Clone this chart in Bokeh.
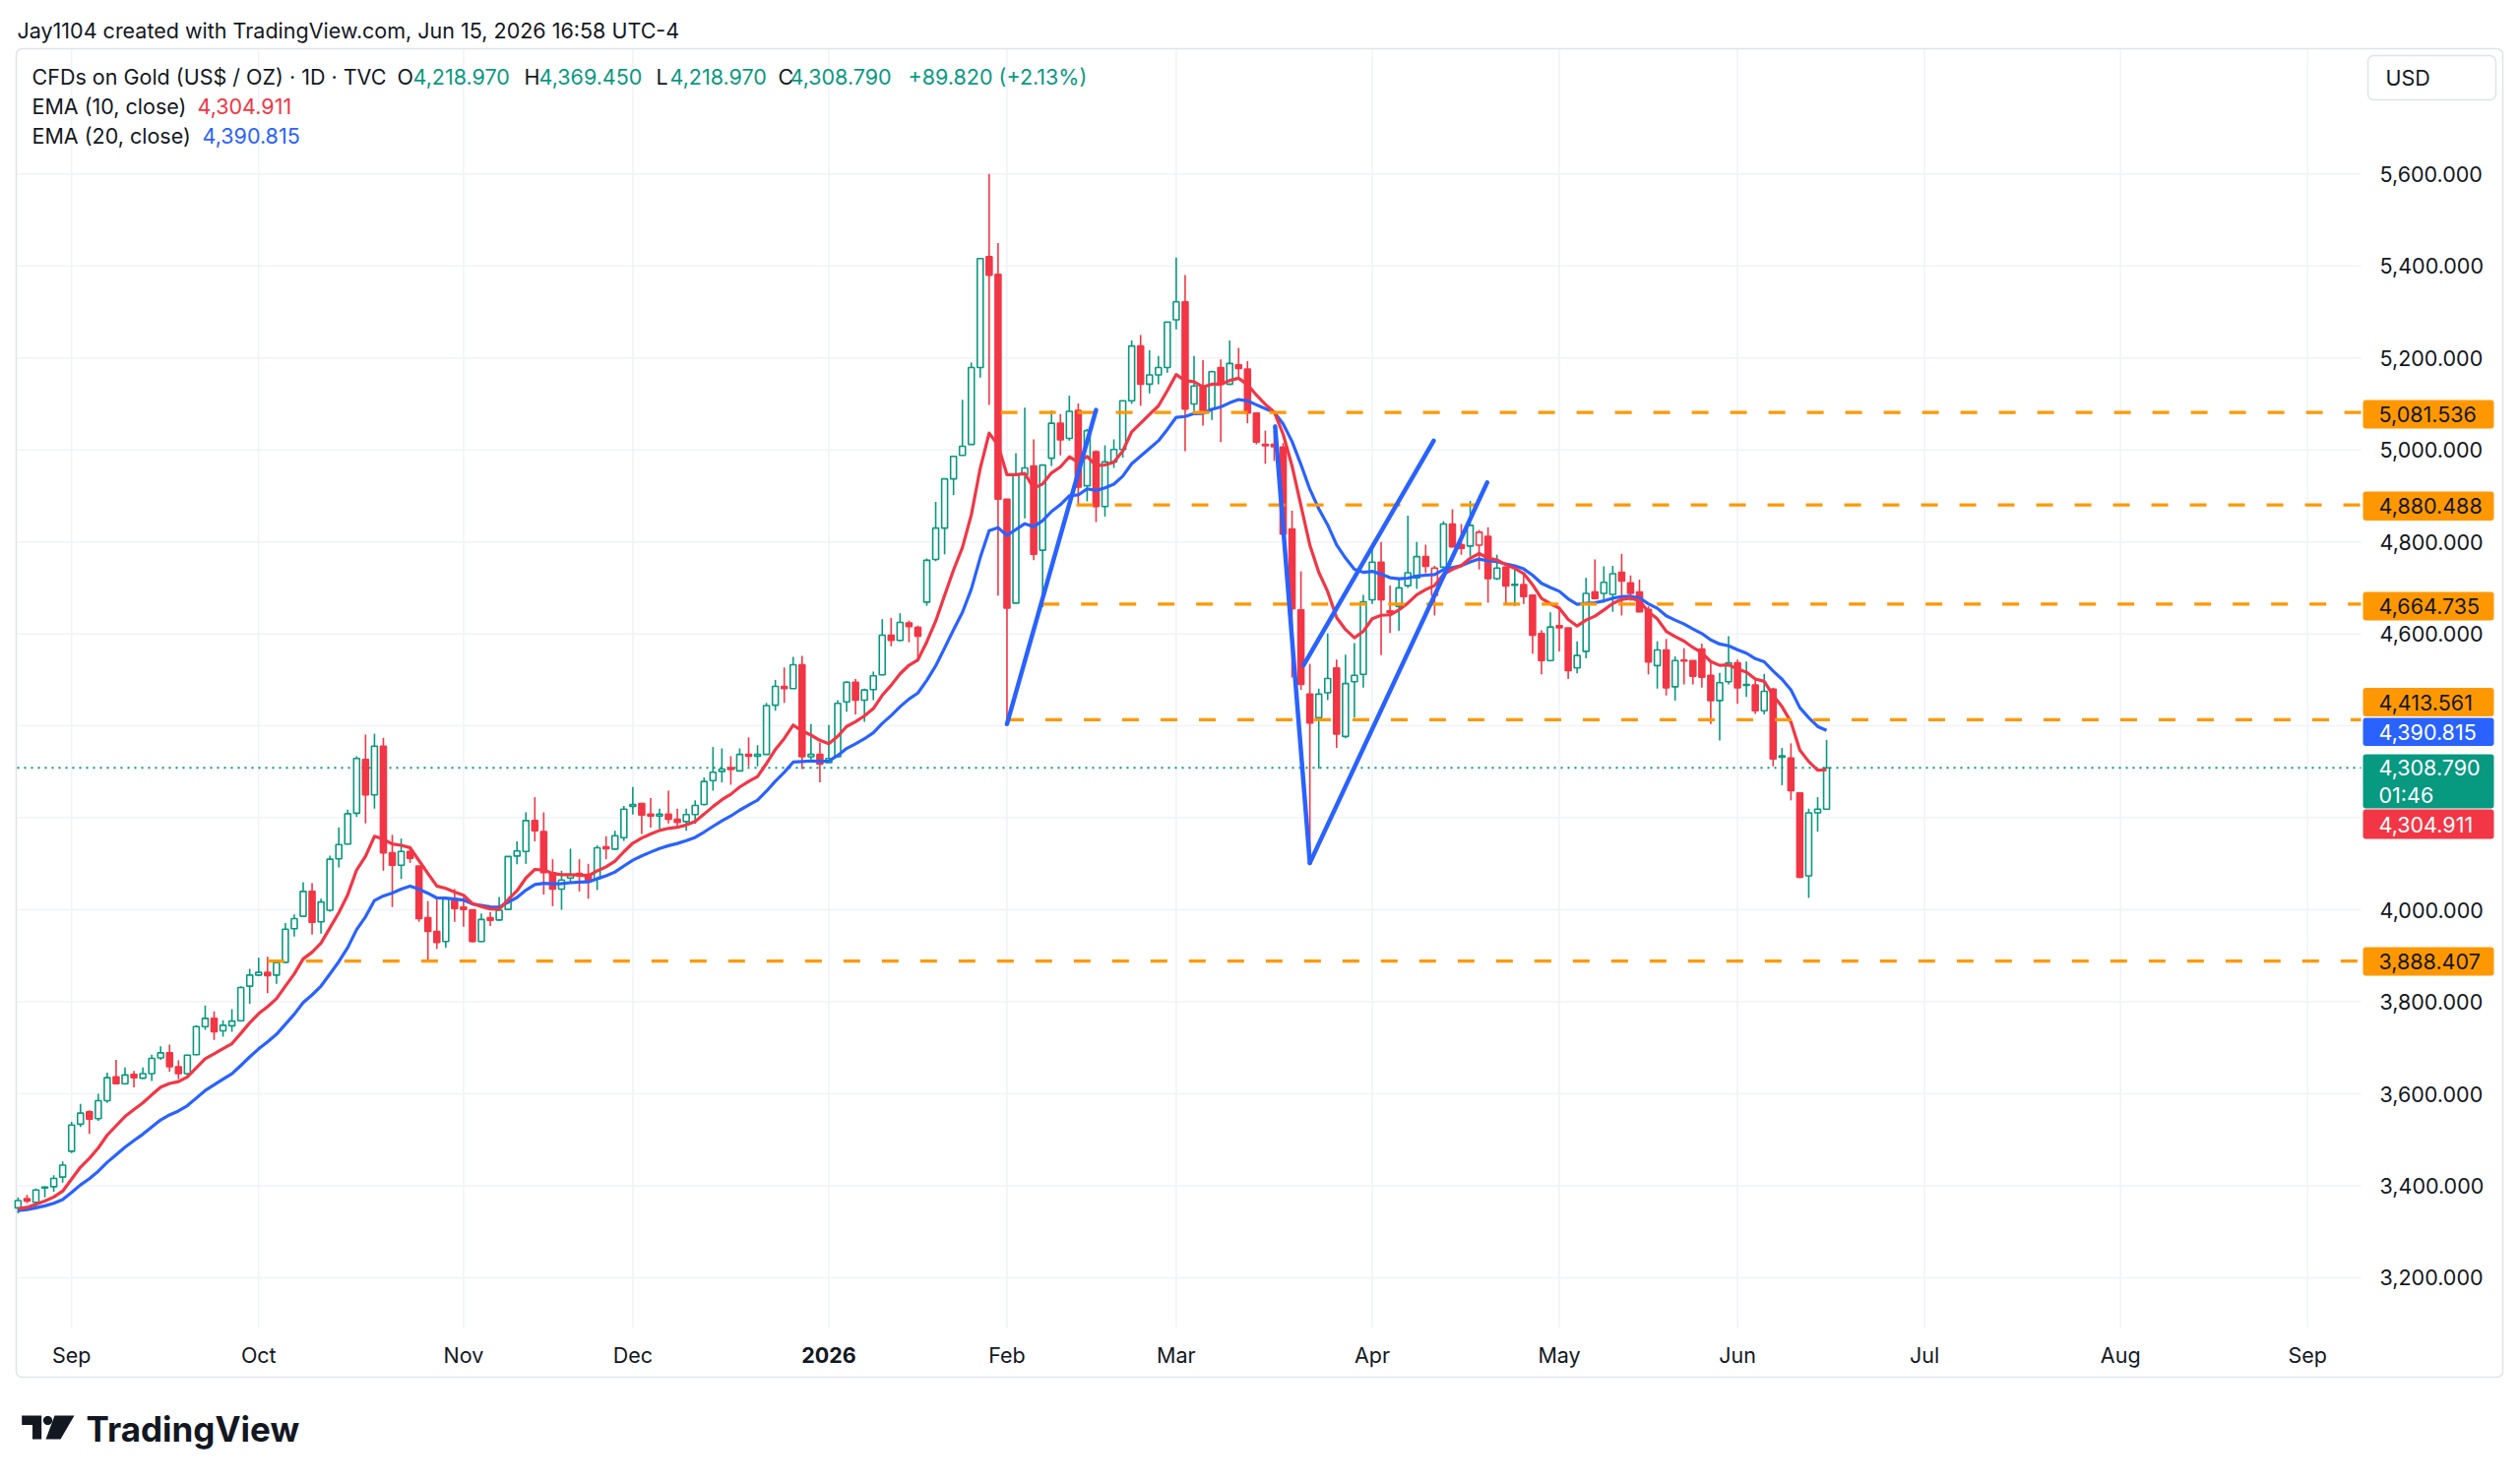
import math
import pandas as pd
from bokeh.plotting import figure
from bokeh.models import ColumnDataSource, Range1d
from bokeh.core.properties import value
from bokeh.embed import file_html
from bokeh.resources import INLINE

# ---------------- data ----------------
start_date = "2025-08-22"
holidays = ["2025-09-01", "2025-11-27", "2025-12-25", "2026-01-01", "2026-01-19",
            "2026-02-16", "2026-04-03", "2026-05-25", "2026-06-19", "2026-07-03",
            "2026-09-07"]
months = ["2025-09", "2025-10", "2025-11", "2025-12", "2026-01", "2026-02", "2026-03",
          "2026-04", "2026-05", "2026-06", "2026-07", "2026-08", "2026-09"]

opens = [3352, 3372, 3364, 3395, 3398, 3419, 3475, 3534, 3561, 3546,
         3585, 3637, 3622, 3642, 3634, 3644, 3678, 3689, 3659, 3644,
         3685, 3746, 3764, 3737, 3748, 3759, 3834, 3858, 3864, 3858,
         3886, 3959, 3986, 4040, 3974, 3999, 4111, 4143, 4210, 4327,
         4250, 4356, 4124, 4097, 4127, 4095, 3983, 3953, 3931, 4024,
         4006, 4000, 3931, 3983, 3978, 4001, 4117, 4127, 4194, 4170,
         4081, 4045, 4069, 4079, 4077, 4067, 4137, 4132, 4157, 4225,
         4231, 4208, 4204, 4208, 4197, 4192, 4207, 4229, 4281, 4301,
         4309, 4302, 4338, 4334, 4338, 4445, 4486, 4481, 4533, 4333,
         4338, 4320, 4333, 4452, 4495, 4456, 4479, 4511, 4597, 4586,
         4624, 4614, 4669, 4762, 4830, 4937, 4988, 5012, 5179, 5420,
         5382, 4893, 4667, 4946, 4965, 4782, 4982, 5058, 5025, 5086,
         4922, 4996, 4877, 4974, 5001, 5107, 5226, 5143, 5163, 5179,
         5283, 5322, 5100, 5136, 5089, 5179, 5143, 5185, 5176, 5080,
         5012, 5012, 5006, 4828, 4652, 4469, 4418, 4472, 4526, 4377,
         4496, 4512, 4674, 4756, 4650, 4660, 4705, 4722, 4768, 4684,
         4745, 4839, 4794, 4791, 4793, 4812, 4720, 4745, 4708, 4707,
         4684, 4601, 4542, 4618, 4613, 4526, 4562, 4691, 4688, 4686,
         4734, 4711, 4691, 4653, 4531, 4565, 4485, 4543, 4542, 4567,
         4510, 4455, 4496, 4537, 4490, 4489, 4433, 4480, 4335, 4330,
         4254, 4074, 4211, 4218.97]
highs = [3375, 3380, 3394, 3399, 3423, 3453, 3539, 3578, 3564, 3600,
         3646, 3674, 3657, 3650, 3657, 3685, 3703, 3707, 3673, 3685,
         3749, 3792, 3779, 3760, 3784, 3834, 3872, 3896, 3898, 3889,
         3971, 3990, 4060, 4058, 4024, 4118, 4179, 4218, 4334, 4381,
         4383, 4374, 4163, 4155, 4138, 4095, 4019, 4029, 4029, 4045,
         4028, 4000, 3992, 3995, 4028, 4117, 4149, 4212, 4245, 4212,
         4110, 4085, 4133, 4110, 4100, 4140, 4160, 4172, 4226, 4267,
         4233, 4243, 4220, 4259, 4220, 4220, 4238, 4288, 4354, 4351,
         4334, 4351, 4375, 4358, 4450, 4500, 4527, 4550, 4552, 4404,
         4364, 4402, 4456, 4497, 4502, 4481, 4518, 4632, 4635, 4645,
         4629, 4618, 4764, 4887, 4937, 4986, 5109, 5190, 5416, 5600,
         5450, 4893, 4993, 5092, 5023, 4967, 5086, 5078, 5118, 5101,
         5046, 4999, 5010, 5023, 5107, 5238, 5250, 5217, 5204, 5278,
         5418, 5380, 5204, 5195, 5172, 5197, 5238, 5222, 5193, 5080,
         5042, 5042, 5015, 4868, 4736, 4535, 4481, 4601, 4544, 4555,
         4580, 4685, 4796, 4800, 4705, 4718, 4857, 4800, 4794, 4748,
         4845, 4871, 4839, 4889, 4826, 4832, 4772, 4745, 4740, 4732,
         4684, 4608, 4647, 4658, 4613, 4584, 4722, 4762, 4747, 4748,
         4774, 4727, 4718, 4660, 4584, 4589, 4551, 4569, 4542, 4579,
         4539, 4515, 4595, 4544, 4540, 4501, 4513, 4483, 4352, 4362,
         4254, 4220, 4245, 4369.45]
lows = [3340, 3362, 3353, 3375, 3387, 3407, 3471, 3528, 3513, 3541,
        3580, 3621, 3620, 3614, 3632, 3628, 3674, 3648, 3632, 3635,
        3684, 3739, 3717, 3724, 3735, 3757, 3796, 3856, 3819, 3839,
        3885, 3942, 3985, 3946, 3948, 3996, 4092, 4142, 4202, 4188,
        4220, 4085, 4006, 4067, 4102, 3974, 3888, 3915, 3918, 3974,
        3963, 3929, 3930, 3965, 3976, 4000, 4099, 4100, 4149, 4033,
        4008, 4000, 4060, 4040, 4024, 4043, 4110, 4131, 4150, 4207,
        4165, 4179, 4176, 4188, 4179, 4172, 4187, 4227, 4259, 4277,
        4272, 4302, 4312, 4312, 4338, 4433, 4450, 4481, 4306, 4327,
        4277, 4320, 4331, 4431, 4425, 4409, 4456, 4510, 4573, 4584,
        4582, 4540, 4661, 4758, 4773, 4902, 4988, 5012, 5157, 5098,
        4683, 4404, 4667, 4851, 4760, 4658, 4965, 4988, 5020, 4881,
        4888, 4843, 4855, 4961, 4983, 5100, 5096, 5123, 5143, 5168,
        5262, 4997, 5082, 5053, 5065, 5017, 5141, 5157, 5058, 5012,
        4970, 4976, 4810, 4505, 4478, 4102, 4307, 4456, 4352, 4373,
        4418, 4483, 4665, 4554, 4602, 4607, 4700, 4698, 4732, 4640,
        4743, 4788, 4772, 4768, 4740, 4668, 4717, 4665, 4660, 4665,
        4557, 4512, 4540, 4562, 4502, 4514, 4547, 4675, 4668, 4648,
        4640, 4672, 4647, 4512, 4481, 4466, 4455, 4490, 4490, 4483,
        4404, 4368, 4490, 4448, 4463, 4426, 4425, 4312, 4271, 4238,
        4069, 4026, 4170, 4218.97]
closes = [3368, 3367, 3391, 3397, 3416, 3445, 3532, 3558, 3545, 3585,
          3635, 3622, 3641, 3635, 3644, 3677, 3689, 3659, 3644, 3684,
          3746, 3764, 3735, 3749, 3758, 3831, 3858, 3864, 3857, 3885,
          3958, 3981, 4040, 3973, 4017, 4110, 4142, 4209, 4329, 4250,
          4356, 4124, 4097, 4127, 4112, 3981, 3953, 3929, 4024, 4003,
          4001, 3931, 3979, 3977, 3999, 4116, 4128, 4194, 4172, 4081,
          4045, 4065, 4076, 4074, 4063, 4135, 4133, 4161, 4219, 4229,
          4206, 4204, 4208, 4197, 4190, 4207, 4227, 4279, 4299, 4306,
          4305, 4338, 4334, 4338, 4444, 4486, 4481, 4533, 4333, 4338,
          4317, 4329, 4449, 4495, 4456, 4478, 4509, 4597, 4586, 4625,
          4616, 4595, 4760, 4830, 4937, 4986, 5008, 5179, 5416, 5380,
          4893, 4656, 4946, 4961, 4773, 4967, 5058, 5022, 5084, 4919,
          5042, 4877, 4974, 5001, 5107, 5226, 5143, 5163, 5179, 5278,
          5322, 5089, 5139, 5085, 5170, 5143, 5188, 5177, 5080, 5017,
          5009, 5007, 4817, 4655, 4490, 4406, 4469, 4503, 4382, 4492,
          4510, 4670, 4756, 4674, 4646, 4700, 4733, 4768, 4747, 4743,
          4839, 4789, 4786, 4836, 4821, 4720, 4743, 4704, 4706, 4681,
          4597, 4542, 4615, 4613, 4520, 4553, 4688, 4677, 4712, 4731,
          4715, 4688, 4648, 4539, 4565, 4483, 4542, 4541, 4508, 4506,
          4455, 4494, 4537, 4483, 4488, 4433, 4475, 4328, 4332, 4259,
          4071, 4211, 4218.97, 4308.79]

ema10_seed = 3350
ema20_seed = 3346
price_ticks = [3200, 3400, 3600, 3800, 4000, 4200, 4400, 4600, 4800, 5000, 5200, 5400, 5600]
levels = [5081.536, 4880.488, 4664.735, 4413.561, 3888.407]
level_start = [110.3, 118.8, 115.0, 111.0, 28.0]
trend_x0 = [111.0, 141.1, 145.0, 144.3]
trend_y0 = [4404, 5051, 4102, 4532]
trend_x1 = [121.0, 145.0, 164.9, 158.9]
trend_y1 = [5087, 4102, 4929, 5020]
ema10_last = "4,304.911"
ema20_last = "4,390.815"
ohlc_text = ["4,218.970", "4,369.450", "4,218.970", "4,308.790"]
change_text = "+89.820 (+2.13%)"
countdown = "01:46"

# ---------------- style ----------------
UP = "#089981"
DOWN = "#F23645"
BLUE = "#2962FF"
ORANGE = "#FF9800"
TXT = "#131722"
GRID = "#F0F3FA"
BORDER = "#E0E3EB"
FONT = "Inter"
FS = "21.5px"

# ---------------- geometry (page pixels) ----------------
W, H = 2552, 1500
PANE_L, PANE_R, PANE_T, PANE_B = 17, 2398, 49, 1349
BAR_PX = 9.05          # px per bar
X0 = -0.1              # bar value at pane left edge
Y5600 = 176.3          # pixel row of 5600
USD_PX = 93.47 / 200   # px per dollar


def px2x(px):
    return X0 + (px - PANE_L) / BAR_PX


def py2y(py):
    return 5600 - (py - Y5600) / USD_PX


# ---------------- derived ----------------
n = len(closes)
hol = set(pd.to_datetime(holidays))
days = [d for d in pd.bdate_range(start_date, "2026-09-30") if d not in hol]

month_idx, month_lab = [], []
for m in months:
    yy, mo = int(m[:4]), int(m[5:])
    i = next(k for k, d in enumerate(days) if d.year == yy and d.month == mo)
    month_idx.append(i)
    month_lab.append(str(yy) if mo == 1 else days[i].strftime("%b"))


def ema(vals, span, seed):
    a = 2.0 / (span + 1)
    out = [seed]
    for v in vals[1:]:
        out.append(a * v + (1 - a) * out[-1])
    return out


ema10 = ema(closes, 10, ema10_seed)
ema20 = ema(closes, 20, ema20_seed)

col, fill = [], []
for i in range(n):
    prev = closes[i - 1] if i > 0 else opens[0]
    c = UP if closes[i] >= prev else DOWN
    col.append(c)
    fill.append("white" if closes[i] >= opens[i] else c)

src = ColumnDataSource(dict(
    x=list(range(n)), o=opens, h=highs, l=lows, c=closes,
    top=[max(a, b) for a, b in zip(opens, closes)],
    bot=[min(a, b) for a, b in zip(opens, closes)],
    col=col, fill=fill))

# ---------------- figure ----------------
p = figure(width=W, height=H, x_range=Range1d(px2x(0), px2x(W)),
           y_range=Range1d(py2y(H), py2y(0)),
           output_backend="svg", toolbar_location=None, title=None,
           x_axis_location=None, y_axis_location=None,
           min_border_left=0, min_border_right=0, min_border_top=0, min_border_bottom=0)
p.outline_line_color = None
p.background_fill_color = "white"
p.border_fill_color = "white"
p.xgrid.visible = False
p.ygrid.visible = False

XL, XR = px2x(PANE_L), px2x(PANE_R)
YT, YB = py2y(PANE_T), py2y(PANE_B)

# grid
p.segment(x0=month_idx, y0=[YT] * len(month_idx), x1=month_idx, y1=[YB] * len(month_idx),
          line_color=GRID, line_width=1.5)
p.segment(x0=[XL] * len(price_ticks), y0=price_ticks, x1=[XR] * len(price_ticks),
          y1=price_ticks, line_color=GRID, line_width=1.5)

# outer frame
p.quad(left=px2x(16), right=px2x(2542), top=py2y(49), bottom=py2y(1399),
       fill_color=None, line_color=BORDER, line_width=1.5, border_radius=6)

# last price dotted line
p.segment(x0=[XL], y0=[closes[-1]], x1=[XR], y1=[closes[-1]], line_color=UP,
          line_dash="2 5", line_width=2)

# candles
p.segment(x0="x", y0="h", x1="x", y1="l", line_color="col", line_width=1.6, source=src)
p.vbar(x="x", top="top", bottom="bot", width=0.66, fill_color="fill",
       line_color="col", line_width=1.6, source=src)

# EMAs
xs = list(range(n))
p.line(xs, ema20, line_color=BLUE, line_width=3.2, line_join="round")
p.line(xs, ema10, line_color=DOWN, line_width=3.2, line_join="round")

# horizontal rays
p.segment(x0=level_start, y0=levels, x1=[XR] * len(levels), y1=levels,
          line_color=ORANGE, line_width=3.2, line_dash="17 22")

# trend lines
p.segment(x0=trend_x0, y0=trend_y0, x1=trend_x1, y1=trend_y1,
          line_color=BLUE, line_width=4.5, line_cap="round")


# ---------------- texts ----------------
def txt(x, y, s, color=TXT, size=FS, bold=False, align="left"):
    p.text(x=[x], y=[y], text=[s], text_color=color, text_font=value(FONT),
           text_font_size=value(size), text_font_style="bold" if bold else "normal",
           text_baseline="middle", text_align=align)


# price scale labels
p.text(x=[px2x(2417)] * len(price_ticks), y=price_ticks,
       text=["{:,.3f}".format(v) for v in price_ticks], text_color=TXT,
       text_font=value(FONT), text_font_size=value(FS), text_baseline="middle",
       text_align="left")

# time scale labels
for i, labtxt in zip(month_idx, month_lab):
    txt(i, py2y(1376), labtxt, bold=(labtxt == "2026"), align="center")

# header + legend
txt(px2x(17), py2y(30), "Jay1104 created with TradingView.com, Jun 15, 2026 16:58 UTC-4")
row = py2y(77)
txt(px2x(32), row, "CFDs on Gold (US$ / OZ) · 1D · TVC")
for lx, letter, vx, v in zip([403, 532, 666, 790], "OHLC", [419, 547, 680, 802], ohlc_text):
    txt(px2x(lx), row, letter)
    txt(px2x(vx), row, v, UP)
txt(px2x(922), row, change_text, UP)
txt(px2x(32), py2y(107), "EMA (10, close)")
txt(px2x(200), py2y(107), ema10_last, DOWN)
txt(px2x(32), py2y(137), "EMA (20, close)")
txt(px2x(205), py2y(137), ema20_last, BLUE)


# price tags on the scale
def tag(top, bot, lines, bg, fg):
    p.quad(left=px2x(2400), right=px2x(2533), top=py2y(top), bottom=py2y(bot),
           fill_color=bg, line_color=None, border_radius=3)
    step = (bot - top) / len(lines)
    for k, s in enumerate(lines):
        txt(px2x(2416), py2y(top + step * (k + 0.5)), s, fg)


tag(406, 435, ["{:,.3f}".format(levels[0])], ORANGE, TXT)
tag(499, 528.5, ["{:,.3f}".format(levels[1])], ORANGE, TXT)
tag(601, 630, ["{:,.3f}".format(levels[2])], ORANGE, TXT)
tag(698.5, 727.5, ["{:,.3f}".format(levels[3])], ORANGE, TXT)
tag(729, 757.5, [ema20_last], BLUE, "white")
tag(766, 821, ["{:,.3f}".format(closes[-1]), countdown], UP, "white")
tag(822, 852, [ema10_last], DOWN, "white")
tag(962, 991, ["{:,.3f}".format(levels[4])], ORANGE, TXT)

# USD box
p.quad(left=px2x(2405), right=px2x(2535), top=py2y(56), bottom=py2y(101),
       fill_color="white", line_color=BORDER, line_width=1.5, border_radius=6)
txt(px2x(2423), py2y(78.5), "USD")


# TradingView logo
def poly(pts):
    p.patch([px2x(a) for a, b in pts], [py2y(b) for a, b in pts],
            fill_color="#131722", line_color=None)


poly([(21.7, 1438), (41.7, 1438), (41.7, 1462), (32.5, 1462), (32.5, 1447.5), (21.7, 1447.5)])
poly([(48 + 4.6 * math.cos(t * math.pi / 12), 1443 + 4.6 * math.sin(t * math.pi / 12))
      for t in range(24)])
poly([(55, 1438), (75, 1438), (61, 1462), (46, 1462)])
txt(px2x(87), py2y(1451), "TradingView", "#131722", size="35px", bold=True)

open("out.html", "w").write(file_html(p, INLINE))
